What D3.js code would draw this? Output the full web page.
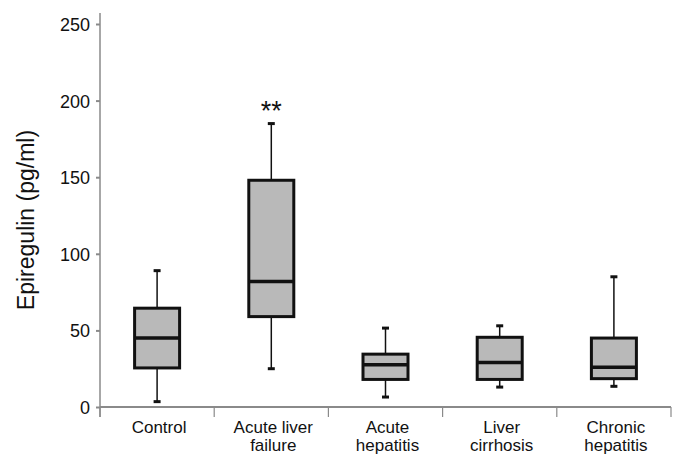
<!DOCTYPE html>
<html>
<head>
<meta charset="utf-8">
<script src="https://cdn.jsdelivr.net/npm/d3@7"></script>
<style>
  body { margin: 0; background: #fff; }
  text { font-family: "Liberation Sans", Arial, sans-serif; fill: #111; }
</style>
</head>
<body>
<div id="chart"></div>
<script>
// groups and their box statistics (pg/ml)
const groups = [["Control"], ["Acute liver", "failure"], ["Acute", "hepatitis"], ["Liver", "cirrhosis"], ["Chronic", "hepatitis"]];
const mins    = [3.5, 25, 6.5, 13, 13.5];
const q1s     = [25.5, 59, 18, 18, 18.5];
const medians = [45, 82, 27.5, 29, 26];
const q3s     = [64.5, 148, 34.5, 45.5, 45];
const maxs    = [89, 185, 51.5, 53, 85];
const marks   = ["", "**", "", "", ""];
const yTicks  = [0, 50, 100, 150, 200, 250];

var width = 676, height = 456;
var margin = { left: 100, right: 5, top: 24, bottom: 49 };

var svg = d3.select("#chart").append("svg")
    .attr("width", width)
    .attr("height", height);

var y = d3.scaleLinear().domain([0, 250]).range([height - margin.bottom, margin.top]);
var x = d3.scaleBand().domain(d3.range(groups.length))
    .range([margin.left, width - margin.right]).paddingInner(0).paddingOuter(0);

var axisColor = "#8a8a8a";

// y axis
var yAxis = svg.append("g")
    .attr("transform", `translate(${margin.left},0)`)
    .call(d3.axisLeft(y).tickValues(yTicks).tickSize(4).tickPadding(6));
yAxis.select(".domain").remove();
yAxis.selectAll(".tick line").attr("stroke", axisColor).attr("stroke-width", 2);
yAxis.selectAll(".tick text")
    .style("font-size", "18px")
    .style("font-family", "Liberation Sans, Arial, sans-serif")
    .attr("fill", "#111")
    .attr("dy", "0.36em");

svg.append("line")
    .attr("x1", margin.left).attr("x2", margin.left)
    .attr("y1", 13).attr("y2", y(0) + 10)
    .attr("stroke", axisColor).attr("stroke-width", 1.5);

// x axis line and category dividers
svg.append("line")
    .attr("x1", margin.left).attr("x2", x.range()[1])
    .attr("y1", y(0)).attr("y2", y(0))
    .attr("stroke", axisColor).attr("stroke-width", 2);

svg.append("g").selectAll("line")
    .data(d3.range(groups.length + 1))
    .enter().append("line")
    .attr("x1", i => margin.left + i * x.bandwidth())
    .attr("x2", i => margin.left + i * x.bandwidth())
    .attr("y1", y(0)).attr("y2", y(0) + 10)
    .attr("stroke", axisColor).attr("stroke-width", 1.2);

// category labels
var labels = svg.append("g").selectAll("text")
    .data(groups)
    .enter().append("text")
    .attr("text-anchor", "middle")
    .style("font-size", "17px")
    .attr("x", (d, i) => x(i) + x.bandwidth() / 2 + 2)
    .attr("y", 433);
labels.selectAll("tspan")
    .data(d => d)
    .enter().append("tspan")
    .attr("x", function () { return d3.select(this.parentNode).attr("x"); })
    .attr("dy", (d, i) => i === 0 ? 0 : 18)
    .text(d => d);

// y label
svg.append("text")
    .attr("transform", "translate(34,220) rotate(-90)")
    .attr("text-anchor", "middle")
    .style("font-size", "23px")
    .text("Epiregulin (pg/ml)");

// boxes
var boxW = 45, capW = 7;
var box = svg.append("g").selectAll("g")
    .data(d3.range(groups.length))
    .enter().append("g")
    .attr("transform", i => `translate(${x(i) + x.bandwidth() / 2},0)`);

// whiskers
box.append("line")
    .attr("x1", 0).attr("x2", 0)
    .attr("y1", i => y(maxs[i])).attr("y2", i => y(q3s[i]))
    .attr("stroke", "#111").attr("stroke-width", 1.5);
box.append("line")
    .attr("x1", 0).attr("x2", 0)
    .attr("y1", i => y(q1s[i])).attr("y2", i => y(mins[i]))
    .attr("stroke", "#111").attr("stroke-width", 1.5);
box.append("line")
    .attr("x1", -capW / 2).attr("x2", capW / 2)
    .attr("y1", i => y(maxs[i])).attr("y2", i => y(maxs[i]))
    .attr("stroke", "#111").attr("stroke-width", 3);
box.append("line")
    .attr("x1", -capW / 2).attr("x2", capW / 2)
    .attr("y1", i => y(mins[i])).attr("y2", i => y(mins[i]))
    .attr("stroke", "#111").attr("stroke-width", 3);

// box body
box.append("rect")
    .attr("x", -boxW / 2).attr("width", boxW)
    .attr("y", i => y(q3s[i]))
    .attr("height", i => y(q1s[i]) - y(q3s[i]))
    .attr("fill", "#b9b9b9")
    .attr("stroke", "#111").attr("stroke-width", 3);

// median
box.append("line")
    .attr("x1", -boxW / 2).attr("x2", boxW / 2)
    .attr("y1", i => y(medians[i])).attr("y2", i => y(medians[i]))
    .attr("stroke", "#111").attr("stroke-width", 3.5);

// significance marks
box.append("text")
    .attr("text-anchor", "middle")
    .attr("y", i => y(maxs[i]) - 4)
    .style("font-size", "27px")
    .text(i => marks[i]);
</script>
</body>
</html>
